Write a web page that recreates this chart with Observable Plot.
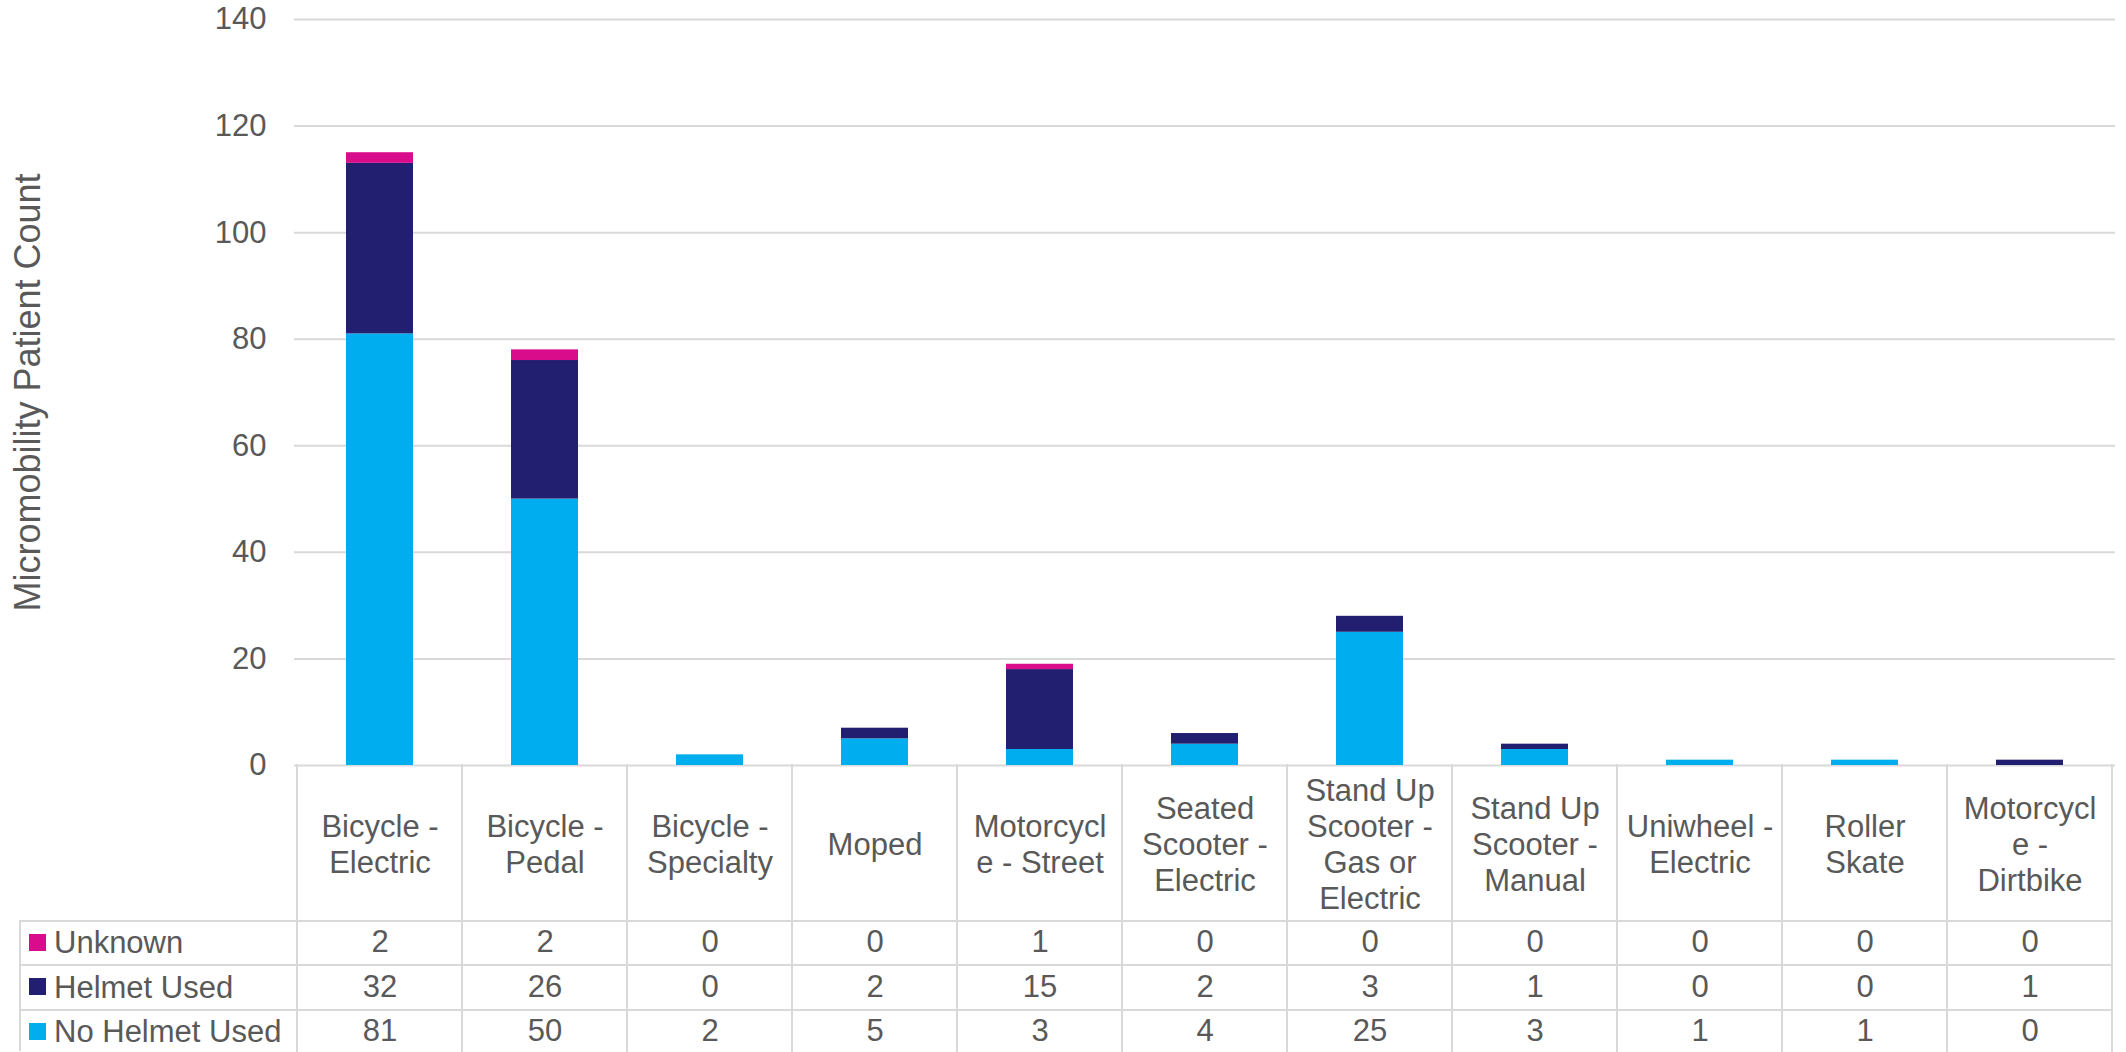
<!DOCTYPE html>
<html><head><meta charset="utf-8">
<script src="https://cdn.jsdelivr.net/npm/d3@7"></script>
<script src="https://cdn.jsdelivr.net/npm/@observablehq/plot@0.6"></script>
<style>
body{margin:0;background:#fff;}
#wrap{position:relative;width:2126px;height:1052px;overflow:hidden;font-family:"Liberation Sans",Arial,sans-serif;color:#595959;background:#fff;}
#wrap svg{position:absolute;left:0;top:0;}
.ln{position:absolute;background:#D9D9D9;}
.lg{position:absolute;font-size:31px;line-height:1;white-space:nowrap;color:#595959;}
.sw{position:absolute;width:17px;height:17px;}
</style></head><body><div id="wrap"></div>
<script>
const categories = ["Bicycle - Electric","Bicycle - Pedal","Bicycle - Specialty","Moped","Motorcycle - Street","Seated Scooter - Electric","Stand Up Scooter - Gas or Electric","Stand Up Scooter - Manual","Uniwheel - Electric","Roller Skate","Motorcycle - Dirtbike"];
const categoryLabels = ["Bicycle -\nElectric","Bicycle -\nPedal","Bicycle -\nSpecialty","Moped","Motorcycl\ne - Street","Seated\nScooter -\nElectric","Stand Up\nScooter -\nGas or\nElectric","Stand Up\nScooter -\nManual","Uniwheel -\nElectric","Roller\nSkate","Motorcycl\ne -\nDirtbike"];
const unknown      = [2, 2, 0, 0, 1, 0, 0, 0, 0, 0, 0];
const helmetUsed   = [32, 26, 0, 2, 15, 2, 3, 1, 0, 0, 1];
const noHelmetUsed = [81, 50, 2, 5, 3, 4, 25, 3, 1, 1, 0];
const seriesNames  = ["No Helmet Used", "Helmet Used", "Unknown"];
const seriesColors = ["#00AEEF", "#221E70", "#D90C8C"];
const yTicks = [0, 20, 40, 60, 80, 100, 120, 140];
const yLabel = "Micromobility Patient Count";

const seriesValues = [noHelmetUsed, helmetUsed, unknown];
const long = [];
seriesNames.forEach((s, j) => categories.forEach((c, i) => long.push({category: c, series: s, value: seriesValues[j][i]})));
const labelOf = new Map(categories.map((c, i) => [c, categoryLabels[i]]));

const tableRows = [
  {name: "Unknown", values: unknown, color: seriesColors[2], center: 942, top: 921},
  {name: "Helmet Used", values: helmetUsed, color: seriesColors[1], center: 986.5, top: 965.3},
  {name: "No Helmet Used", values: noHelmetUsed, color: seriesColors[0], center: 1031, top: 1010}
];
const frameBottom = 765;

const chart = Plot.plot({
  width: 2126, height: 1052,
  marginTop: 19, marginBottom: 287, marginLeft: 294, marginRight: 11,
  style: {fontFamily: "'Liberation Sans', Arial, sans-serif", fontSize: "31px", color: "#595959", background: "transparent"},
  x: {domain: categories, padding: 0, label: null},
  y: {domain: [0, 140], label: null},
  color: {domain: seriesNames, range: seriesColors},
  marks: [
    Plot.gridY(yTicks, {stroke: "#D9D9D9", strokeOpacity: 1, strokeWidth: 2}),
    Plot.axisY(yTicks, {tickSize: 0, tickPadding: 28, fontSize: 31, fill: "#595959", label: null}),
    Plot.barY(long, Plot.stackY({x: "category", y: "value", fill: "series", insetLeft: 49, insetRight: 49})),
    Plot.axisX({tickSize: 0, tickPadding: 78, lineAnchor: "middle", lineHeight: 1.165, fontSize: 31, fill: "#595959", tickFormat: d => labelOf.get(d), label: null}),
    ...tableRows.map(r => Plot.text(categories, {x: d => d, text: (d, i) => String(r.values[i]), frameAnchor: "bottom", dy: r.center - frameBottom, lineAnchor: "middle", fontSize: 31, fill: "#595959"})),
    Plot.text([yLabel], {frameAnchor: "left", dx: -266, rotate: -90, fontSize: 36, fill: "#595959", textAnchor: "middle", lineAnchor: "middle"})
  ]
});

const wrap = document.getElementById("wrap");
wrap.appendChild(chart);

// table grid lines derived from the x scale
const xs = chart.scale("x");
const bw = xs.bandwidth;
const edges = categories.map(c => xs.apply(c));
edges.push(xs.apply(categories[categories.length - 1]) + bw);
const right = edges[edges.length - 1];
function line(l, t, w, h) {
  const d = document.createElement("div");
  d.className = "ln";
  Object.assign(d.style, {left: l + "px", top: t + "px", width: w + "px", height: h + "px"});
  wrap.appendChild(d);
}
edges.forEach(x => line(x - 1, frameBottom - 1, 2, 1052 - frameBottom + 1));
line(19, 921 - 1, 2, 1052 - 921);
tableRows.forEach(r => line(19, r.top - 1, right - 19, 2));

// legend column
tableRows.forEach(r => {
  const sw = document.createElement("div");
  sw.className = "sw";
  Object.assign(sw.style, {left: "29px", top: (r.center - 8.5) + "px", background: r.color});
  wrap.appendChild(sw);
  const t = document.createElement("div");
  t.className = "lg";
  t.textContent = r.name;
  Object.assign(t.style, {left: "54px", top: (r.center - 15) + "px"});
  wrap.appendChild(t);
});
</script></body></html>
